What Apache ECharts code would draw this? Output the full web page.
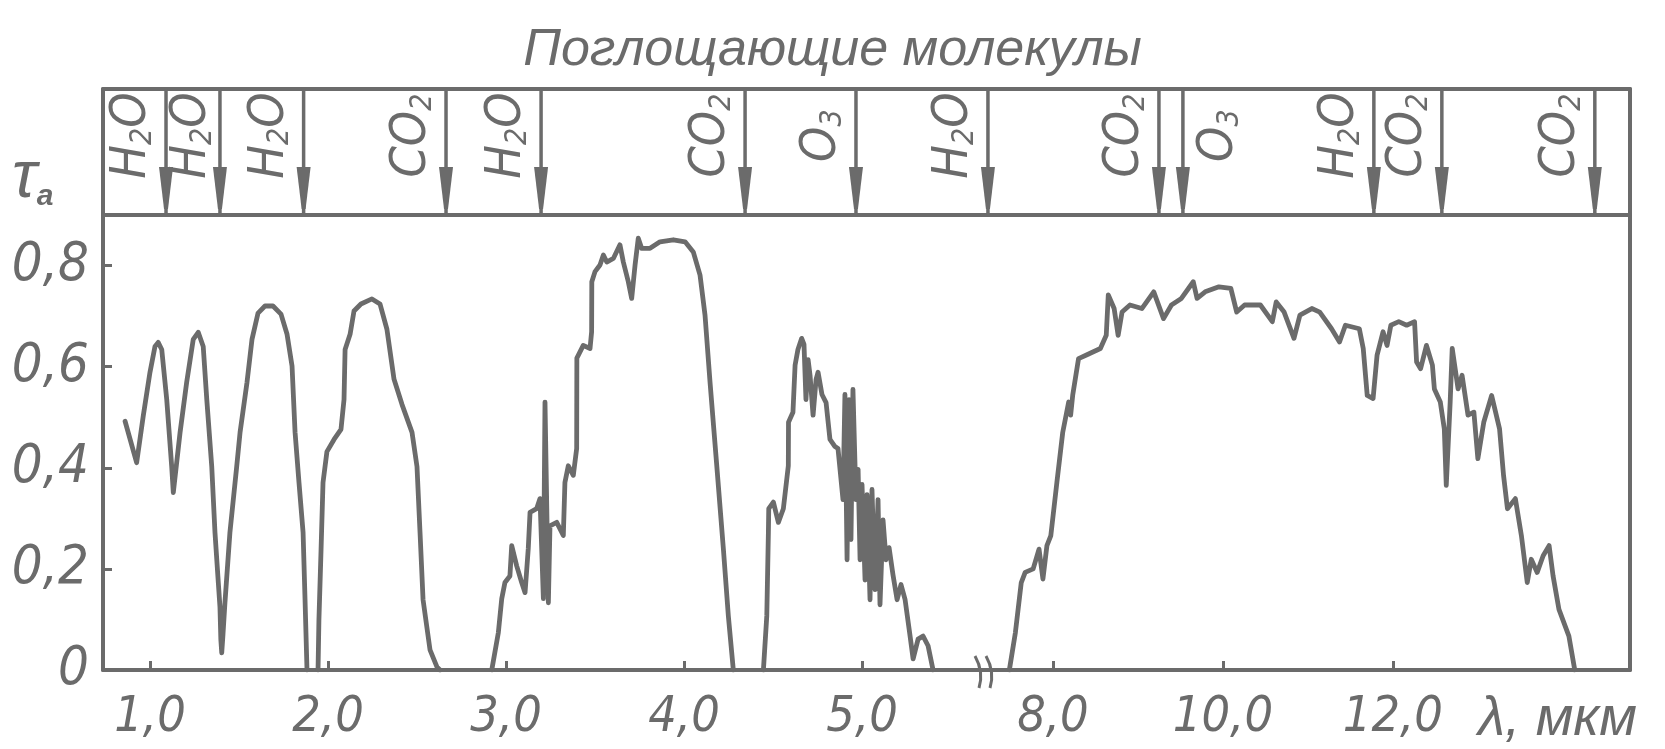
<!DOCTYPE html>
<html><head><meta charset="utf-8">
<script src="https://cdn.jsdelivr.net/npm/echarts@6/dist/echarts.min.js"></script>
<style>html,body{margin:0;padding:0;background:#fff}#c{width:1665px;height:749px}</style>
</head><body><div id="c"></div>
<script>
// ---------- data ----------
// transmission τ vs wavelength λ (μm), first axis segment (0.7–5.7 μm)
const bandA = [[0.860,0.492],[0.925,0.410],[0.962,0.502],[1.000,0.589],[1.028,0.640],[1.046,0.648],[1.066,0.634],[1.094,0.535],[1.122,0.402],[1.131,0.351],[1.169,0.470],[1.206,0.569],[1.243,0.654],[1.271,0.668],[1.299,0.640],[1.319,0.535],[1.347,0.402],[1.365,0.272],[1.384,0.172],[1.393,0.125],[1.398,0.060],[1.403,0.034],[1.410,0.070],[1.421,0.133],[1.449,0.272],[1.487,0.402],[1.506,0.470],[1.545,0.569],[1.573,0.654],[1.607,0.706],[1.646,0.720],[1.691,0.720],[1.736,0.704],[1.770,0.664],[1.798,0.601],[1.815,0.470],[1.837,0.371],[1.860,0.272],[1.871,0.139],[1.882,0.0]];
const bandB = [[1.944,0],[1.949,0.099],[1.961,0.238],[1.972,0.371],[1.994,0.432],[2.034,0.456],[2.073,0.476],[2.090,0.535],[2.096,0.634],[2.124,0.664],[2.146,0.710],[2.185,0.724],[2.247,0.734],[2.292,0.724],[2.331,0.674],[2.371,0.575],[2.416,0.525],[2.472,0.470],[2.500,0.402],[2.517,0.272],[2.534,0.139],[2.573,0.040],[2.612,0.006],[2.629,0]];
const bandC = [[2.920,0],[2.957,0.074],[2.976,0.141],[2.994,0.173],[3.022,0.186],[3.032,0.246],[3.060,0.206],[3.088,0.173],[3.107,0.153],[3.125,0.240],[3.135,0.312],[3.172,0.319],[3.191,0.339],[3.210,0.141],[3.219,0.530],[3.238,0.133],[3.247,0.285],[3.285,0.292],[3.322,0.266],[3.331,0.371],[3.350,0.404],[3.378,0.385],[3.397,0.438],[3.398,0.617],[3.434,0.642],[3.472,0.636],[3.481,0.669],[3.482,0.768],[3.500,0.788],[3.528,0.801],[3.547,0.821],[3.566,0.807],[3.603,0.814],[3.640,0.841],[3.659,0.807],[3.687,0.768],[3.706,0.735],[3.725,0.801],[3.743,0.854],[3.762,0.834],[3.809,0.834],[3.865,0.847],[3.940,0.851],[4.006,0.847],[4.052,0.827],[4.090,0.781],[4.118,0.702],[4.146,0.570],[4.184,0.404],[4.221,0.240],[4.249,0.107],[4.277,0]];
const bandD = [[4.446,0],[4.465,0.107],[4.474,0.272],[4.476,0.319],[4.502,0.332],[4.530,0.292],[4.558,0.319],[4.586,0.404],[4.587,0.490],[4.612,0.510],[4.624,0.603],[4.640,0.634],[4.661,0.656],[4.674,0.644],[4.685,0.535],[4.697,0.614],[4.708,0.583],[4.725,0.504],[4.742,0.575],[4.753,0.589],[4.775,0.545],[4.798,0.529],[4.820,0.456],[4.848,0.442],[4.865,0.438],[4.876,0.436],[4.893,0.337],[4.904,0.545],[4.916,0.218],[4.927,0.535],[4.938,0.258],[4.949,0.555],[4.966,0.337],[4.978,0.397],[4.989,0.218],[5.000,0.367],[5.017,0.178],[5.028,0.347],[5.045,0.139],[5.056,0.357],[5.073,0.159],[5.090,0.337],[5.101,0.129],[5.118,0.297],[5.135,0.218],[5.152,0.242],[5.174,0.188],[5.197,0.139],[5.219,0.169],[5.242,0.139],[5.270,0.067],[5.287,0.022],[5.315,0.061],[5.343,0.067],[5.371,0.048],[5.399,0]];
// second axis segment (7.2–14.8 μm)
const bandE = [[7.487,0],[7.558,0.074],[7.627,0.173],[7.673,0.193],[7.767,0.200],[7.836,0.239],[7.882,0.180],[7.929,0.246],[7.975,0.266],[8.046,0.371],[8.115,0.470],[8.185,0.530],[8.208,0.504],[8.232,0.543],[8.301,0.616],[8.394,0.623],[8.558,0.636],[8.627,0.662],[8.651,0.742],[8.720,0.715],[8.767,0.662],[8.813,0.708],[8.906,0.722],[9.046,0.715],[9.186,0.748],[9.301,0.695],[9.394,0.722],[9.511,0.735],[9.651,0.768],[9.696,0.735],[9.791,0.748],[9.953,0.758],[10.093,0.755],[10.162,0.708],[10.255,0.722],[10.441,0.722],[10.581,0.689],[10.627,0.728],[10.720,0.708],[10.836,0.656],[10.906,0.702],[11.046,0.715],[11.139,0.708],[11.278,0.675],[11.372,0.649],[11.441,0.682],[11.605,0.675],[11.651,0.636],[11.698,0.543],[11.767,0.537],[11.814,0.623],[11.884,0.669],[11.931,0.642],[11.976,0.682],[12.069,0.689],[12.162,0.682],[12.255,0.689],[12.279,0.609],[12.326,0.596],[12.395,0.642],[12.465,0.603],[12.488,0.556],[12.558,0.530],[12.605,0.477],[12.628,0.365],[12.674,0.530],[12.698,0.636],[12.767,0.556],[12.814,0.583],[12.884,0.504],[12.953,0.510],[13.000,0.418],[13.069,0.490],[13.162,0.543],[13.255,0.477],[13.302,0.385],[13.348,0.319],[13.441,0.339],[13.512,0.266],[13.581,0.173],[13.628,0.219],[13.698,0.193],[13.768,0.226],[13.838,0.246],[13.885,0.186],[13.954,0.120],[14.071,0.067],[14.140,0]];

// absorbing molecules (band positions, μm on the drawn axis)
const molLambda1 = [1.09, 1.393, 1.863, 2.663, 3.197, 4.343, 4.966];
const molNames1  = ['H2O', 'H2O', 'H2O', 'CO2', 'H2O', 'CO2', 'O3'];
const molLambda2 = [7.235, 9.247, 9.529, 11.776, 12.576, 14.376];
const molNames2  = ['H2O', 'CO2', 'O3', 'H2O', 'CO2', 'CO2'];

// ticks
const xTicks1 = [1, 2, 3, 4, 5];
const xTickLabels1 = ['1,0', '2,0', '3,0', '4,0', '5,0'];
const xTicks2 = [8, 10, 12];
const xTickLabels2 = ['8,0', '10,0', '12,0'];
const yTicks = [0, 0.2, 0.4, 0.6, 0.8];
const yTickLabels = ['0', '0,2', '0,4', '0,6', '0,8'];

const titleText = 'Поглощающие молекулы';
const xName = 'λ, мкм';

// ---------- chart ----------
const C = '#6b6b6b';
const NARROW = "'Liberation Sans Narrow','DejaVu Sans Condensed','Liberation Sans',sans-serif";
const WIDE = "'Liberation Sans','DejaVu Sans',sans-serif";
const seg1 = [0.736, 5.674], seg2 = [7.165, 14.79];
const L = 103, SPLIT = 982, R = 1630, TOP = 89, MID = 215, BOT = 670;

function lookup(ticks, labels) {
  return v => { for (let i = 0; i < ticks.length; i++) if (Math.abs(ticks[i] - v) < 1e-6) return labels[i]; return ''; };
}
function joinBands(list) {
  const out = [];
  list.forEach((b, i) => { if (i) out.push([null, null]); b.forEach(p => out.push(p)); });
  return out;
}
const richMol = {
  s: { fontSize: 30, fontFamily: NARROW, fontStyle: 'italic', fill: C, color: C, verticalAlign: 'bottom', lineHeight: 52 }
};
function molText(n) {
  if (n === 'H2O') return 'H{s|2}O';
  if (n === 'CO2') return 'CO{s|2}';
  if (n === 'O3') return 'O{s|3}';
  return n;
}
function arrowRender(names, rightIdx, tightIdx) {
  return function (params, api) {
    const v = api.value(0);
    const pb = api.coord([v, 0]), pt = api.coord([v, 1]);
    const x = pb[0], yb = pb[1], yt = pt[1];
    const i = params.dataIndex;
    const dx = i === rightIdx ? 36 : (i === tightIdx ? -28 : -34);
    return {
      type: 'group',
      children: [
        { type: 'line', shape: { x1: x, y1: yt, x2: x, y2: yb }, style: { stroke: C, lineWidth: 3.5 } },
        { type: 'polygon', shape: { points: [[x - 7, yb - 48], [x + 7, yb - 48], [x + 2, yb - 6], [x - 2, yb - 6]] }, style: { fill: C } },
        { type: 'text', x: x + dx, y: yt + (yb - yt) * 0.37, rotation: Math.PI / 2,
          style: { text: molText(names[i]), rich: richMol, fill: C,
                   fontSize: 50, fontFamily: NARROW, fontStyle: 'italic', lineHeight: 52,
                   align: 'center', verticalAlign: 'middle' } }
      ]
    };
  };
}

const lineAxis = { show: true, onZero: false, lineStyle: { color: C, width: 4 } };
const tickStyle = { inside: true, length: 9, lineStyle: { color: C, width: 3 } };

const chart = echarts.init(document.getElementById('c'), null, { renderer: 'canvas' });
chart.setOption({
  animation: false,
  backgroundColor: '#ffffff',
  title: { text: titleText, left: 'center', top: 20,
    textStyle: { fontFamily: WIDE, fontStyle: 'italic', fontWeight: 'normal', fontSize: 52, color: C } },
  grid: [
    { left: L, top: MID, width: SPLIT - L, height: BOT - MID, containLabel: false, outerBoundsMode: 'none' },
    { left: SPLIT, top: MID, width: R - SPLIT, height: BOT - MID, containLabel: false, outerBoundsMode: 'none' },
    { left: L, top: TOP, width: SPLIT - L, height: MID - TOP, containLabel: false, outerBoundsMode: 'none' },
    { left: SPLIT, top: TOP, width: R - SPLIT, height: MID - TOP, containLabel: false, outerBoundsMode: 'none' }
  ],
  xAxis: [
    { type: 'value', gridIndex: 0, min: seg1[0], max: seg1[1], position: 'bottom', axisLine: lineAxis,
      splitLine: { show: false }, axisTick: Object.assign({ customValues: xTicks1 }, tickStyle),
      axisLabel: { customValues: xTicks1, formatter: lookup(xTicks1, xTickLabels1), margin: 23,
        fontFamily: NARROW, fontStyle: 'italic', fontSize: 50, color: C } },
    { type: 'value', gridIndex: 1, min: seg2[0], max: seg2[1], position: 'bottom', axisLine: lineAxis,
      splitLine: { show: false }, axisTick: Object.assign({ customValues: xTicks2 }, tickStyle),
      axisLabel: { customValues: xTicks2, formatter: lookup(xTicks2, xTickLabels2), margin: 23,
        fontFamily: NARROW, fontStyle: 'italic', fontSize: 50, color: C } },
    { type: 'value', gridIndex: 2, min: seg1[0], max: seg1[1], position: 'bottom', axisLine: lineAxis,
      splitLine: { show: false }, axisTick: { show: false }, axisLabel: { show: false } },
    { type: 'value', gridIndex: 3, min: seg2[0], max: seg2[1], position: 'bottom', axisLine: lineAxis,
      splitLine: { show: false }, axisTick: { show: false }, axisLabel: { show: false } },
    { type: 'value', gridIndex: 2, min: seg1[0], max: seg1[1], position: 'top', axisLine: lineAxis,
      splitLine: { show: false }, axisTick: { show: false }, axisLabel: { show: false } },
    { type: 'value', gridIndex: 3, min: seg2[0], max: seg2[1], position: 'top', axisLine: lineAxis,
      splitLine: { show: false }, axisTick: { show: false }, axisLabel: { show: false } }
  ],
  yAxis: [
    { type: 'value', gridIndex: 0, min: 0, max: 0.9, position: 'left', axisLine: lineAxis,
      splitLine: { show: false }, axisTick: Object.assign({ customValues: yTicks }, tickStyle),
      axisLabel: { customValues: yTicks, formatter: lookup(yTicks, yTickLabels), margin: 14,
        fontFamily: NARROW, fontStyle: 'italic', fontSize: 54, color: C } },
    { type: 'value', gridIndex: 1, min: 0, max: 0.9, position: 'right', axisLine: lineAxis,
      splitLine: { show: false }, axisTick: { show: false }, axisLabel: { show: false } },
    { type: 'value', gridIndex: 2, min: 0, max: 1, position: 'left', axisLine: lineAxis,
      splitLine: { show: false }, axisTick: { show: false }, axisLabel: { show: false } },
    { type: 'value', gridIndex: 3, min: 0, max: 1, position: 'right', axisLine: lineAxis,
      splitLine: { show: false }, axisTick: { show: false }, axisLabel: { show: false } }
  ],
  series: [
    { type: 'line', xAxisIndex: 0, yAxisIndex: 0, data: joinBands([bandA, bandB, bandC, bandD]),
      showSymbol: false, connectNulls: false, lineStyle: { color: C, width: 4.8, join: 'round', cap: 'round' } },
    { type: 'line', xAxisIndex: 1, yAxisIndex: 1, data: bandE,
      showSymbol: false, lineStyle: { color: C, width: 4.8, join: 'round', cap: 'round' } },
    { type: 'custom', xAxisIndex: 2, yAxisIndex: 2, data: molLambda1.map(v => [v, 0]),
      renderItem: arrowRender(molNames1, -1, 1) },
    { type: 'custom', xAxisIndex: 3, yAxisIndex: 3, data: molLambda2.map(v => [v, 0]),
      renderItem: arrowRender(molNames2, 2, -1) }
  ],
  graphic: [
    { type: 'text', left: 12, top: 146,
      style: { text: '{t|τ}{a|a}', rich: {
        t: { fontSize: 66, fontFamily: WIDE, fontStyle: 'italic', fill: C, color: C, lineHeight: 70, verticalAlign: 'bottom' },
        a: { fontSize: 30, fontFamily: WIDE, fontStyle: 'italic', fontWeight: 'bold', fill: C, color: C, lineHeight: 62, verticalAlign: 'bottom' } } } },
    { type: 'text', left: 1478, top: 692,
      style: { text: xName, fontSize: 55, fontFamily: WIDE, fontStyle: 'italic', fill: C } },
    { type: 'bezierCurve', shape: { x1: SPLIT - 7, y1: 656, x2: SPLIT - 3, y2: 688, cpx1: SPLIT + 2, cpy1: 672 },
      style: { stroke: C, lineWidth: 3, fill: null } },
    { type: 'bezierCurve', shape: { x1: SPLIT + 4, y1: 656, x2: SPLIT + 8, y2: 688, cpx1: SPLIT + 13, cpy1: 672 },
      style: { stroke: C, lineWidth: 3, fill: null } }
  ]
});
</script>
</body></html>
